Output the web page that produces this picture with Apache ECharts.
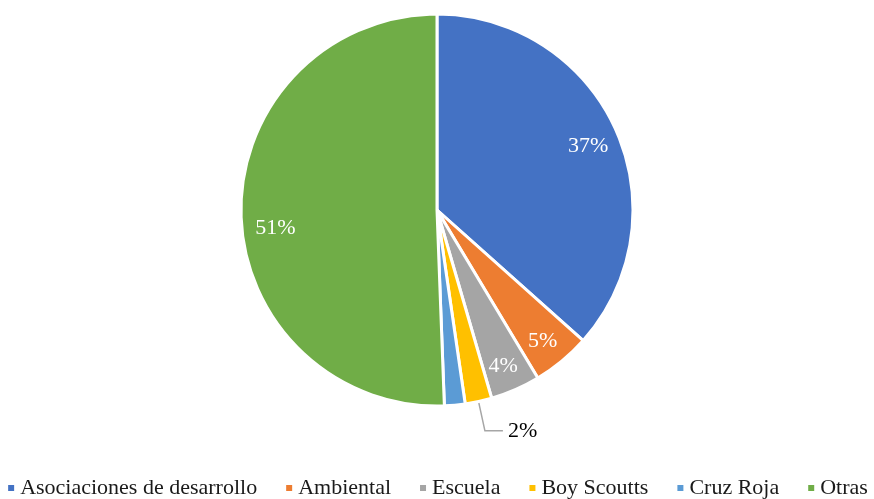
<!DOCTYPE html>
<html>
<head>
<meta charset="utf-8">
<script src="https://cdn.jsdelivr.net/npm/echarts@6/dist/echarts.min.js"></script>
<style>
  html, body { margin: 0; padding: 0; background: #fff; }
  #chart { width: 874px; height: 499px; }
</style>
</head>
<body>
<div id="chart"></div>
<script>
// categorias y valores (%)
const categories = ['Asociaciones de desarrollo', 'Ambiental', 'Escuela', 'Boy Scoutts', 'Cruz Roja', 'Otras'];
const values = [36.6, 4.8, 4.1, 2.2, 1.7, 50.6];
const colors = ['#4472C4', '#ED7D31', '#A5A5A5', '#FFC000', '#5B9BD5', '#70AD47'];

const chart = echarts.init(document.getElementById('chart'));
const font = '"Liberation Serif", "DejaVu Serif", serif';
const R = 196;
const center = [437, 210];

const pct = p => Math.round(p.value) + '%';

const option = {
  color: colors,
  legend: {
    data: categories,
    bottom: -5,
    left: 'center',
    icon: 'rect',
    itemWidth: 8,
    itemHeight: 8,
    itemGap: 27,
    textStyle: { fontFamily: font, fontSize: 22, color: '#1a1a1a' }
  },
  series: [
    {
      // sectores
      type: 'pie',
      center: center,
      radius: R,
      startAngle: 90,
      clockwise: true,
      silent: true,
      itemStyle: { borderColor: '#fff', borderWidth: 3 },
      label: { show: false },
      labelLine: { show: false },
      data: categories.map((name, i) => {
        const item = { name: name, value: values[i] };
        if (name === 'Boy Scoutts') {
          item.label = {
            show: true,
            position: 'outside',
            formatter: pct,
            fontFamily: font,
            fontSize: 22,
            color: '#000'
          };
          item.labelLine = {
            show: true,
            length: 30,
            length2: 18,
            lineStyle: { color: '#a6a6a6', width: 1.5 }
          };
        }
        return item;
      })
    },
    {
      // etiquetas interiores
      type: 'pie',
      center: center,
      radius: [R * 0.66, R],
      startAngle: 90,
      clockwise: true,
      silent: true,
      itemStyle: { color: 'rgba(0,0,0,0)' },
      label: {
        show: true,
        position: 'inside',
        formatter: pct,
        fontFamily: font,
        fontSize: 22,
        color: '#fff'
      },
      labelLine: { show: false },
      data: categories.map((name, i) => ({
        name: name,
        value: values[i],
        label: {
          show: !(name === 'Boy Scoutts' || name === 'Cruz Roja'),
          offset: name === 'Otras' ? [4, 15] : [0, 4]
        }
      }))
    }
  ]
};

chart.setOption(option);
</script>
</body>
</html>
